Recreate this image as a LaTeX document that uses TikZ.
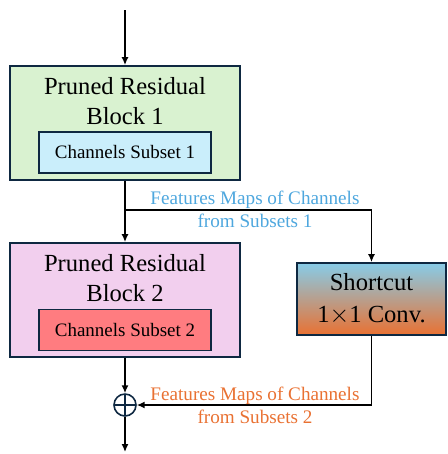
\documentclass[tikz,border=0pt]{standalone}
\usepackage{fontspec}
\setmainfont{Liberation Serif}
\usepackage{xcolor}
\usetikzlibrary{arrows.meta,positioning,calc}
\definecolor{edgenavy}{HTML}{0E2841}
\definecolor{blockgreen}{HTML}{D9F2D0}
\definecolor{blockpink}{HTML}{F2CFEE}
\definecolor{subsetblue}{HTML}{CAEEFB}
\definecolor{subsetred}{HTML}{FF7C80}
\definecolor{scTop}{HTML}{87CCE8}
\definecolor{scBottom}{HTML}{E97132}
\definecolor{labelblue}{HTML}{4EA7DE}
\definecolor{labelorange}{HTML}{E97132}
\newcommand{\BlockNode}[4]{%
  \node[draw=edgenavy, line width=1.1pt, fill=#2, minimum width=4.6cm, minimum height=2.28cm] (#1) at (#3) {};
  \node[align=center, font=\fontsize{14}{17}\selectfont] (#1t) at ($(#1.north)+(0,36)$) {Pruned Residual\\#4};
}

\begin{document}
\begin{tikzpicture}[x=0.02cm, y=-0.02cm,
  arr/.style={-{Latex[length=4.5pt,width=4pt]}, line width=0.8pt},
  subset/.style={draw=edgenavy, line width=1.1pt, minimum width=3.44cm, minimum height=0.82cm, font=\fontsize{10.8}{13}\selectfont},
  mapnote/.style={align=center, font=\fontsize{10.9}{13}\selectfont}]
  \useasboundingbox (0,0) rectangle (448,454);
  \BlockNode{b1}{blockgreen}{125,123}{Block 1}
  \node[subset, fill=subsetblue] (s1) at (125,152.5) {Channels Subset 1};
  \BlockNode{b2}{blockpink}{125,300}{Block 2}
  \node[subset, fill=subsetred] (s2) at (125,330) {Channels Subset 2};
  \node[draw=edgenavy, line width=1.1pt, top color=scTop, bottom color=scBottom, minimum width=2.98cm, minimum height=1.44cm, align=center, font=\fontsize{14}{18.7}\selectfont] (sc) at (371.5,299) {Shortcut\\1$\times$1 Conv.};
  \node[draw=edgenavy, line width=0.9pt, circle, minimum size=0.44cm, inner sep=0pt,
    path picture={\draw[edgenavy, line width=0.9pt] (path picture bounding box.north) -- (path picture bounding box.south)
      (path picture bounding box.west) -- (path picture bounding box.east);}] (add) at (125,405) {};
  \coordinate (in) at (125,10);
  \coordinate (split) at (125,210);
  \coordinate (out) at (125,452);
  \draw[arr] (in) -- (b1.north);
  \draw[arr] (b1.south) -- (b2.north);
  \draw[arr] (split) -| (sc.north);
  \draw[arr] (b2.south) -- (add.north);
  \draw[arr] (sc.south) |- (add.east);
  \draw[arr] (add.south) -- (out);
  \node[mapnote, text=labelblue] (m1) at (255,209.5) {Features Maps of Channels\\from Subsets 1};
  \node[mapnote, text=labelorange] (m2) at (255,405.5) {Features Maps of Channels\\from Subsets 2};
\end{tikzpicture}
\end{document}
